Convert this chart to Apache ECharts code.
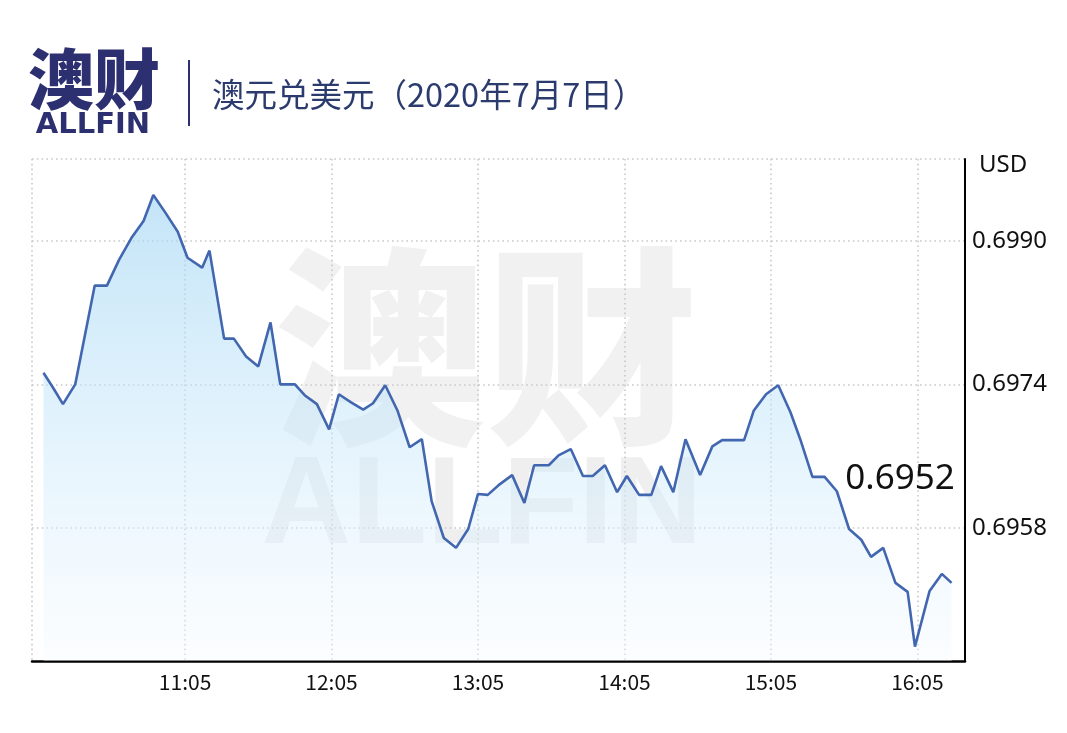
<!DOCTYPE html>
<html><head><meta charset="utf-8">
<script src="https://cdn.jsdelivr.net/npm/echarts@6/dist/echarts.min.js"></script>
<style>html,body{margin:0;padding:0;background:#fff}#c{width:1067px;height:733px}</style>
</head><body><div id="c"></div>
<script>
// ---- data ----
const times = [
'10:07','10:11','10:15','10:20','10:24','10:28','10:33','10:38','10:43','10:48',
'10:52','10:57','11:02','11:06','11:12','11:15','11:21','11:25','11:30','11:35',
'11:40','11:44','11:50','11:54','11:59','12:04','12:08','12:13','12:18','12:22',
'12:27','12:32','12:37','12:42','12:46','12:51','12:56','13:01','13:05','13:09',
'13:14','13:19','13:24','13:28','13:34','13:38','13:43','13:48','13:52','13:57',
'14:02','14:06','14:11','14:16','14:20','14:25','14:30','14:36','14:41','14:45',
'14:49','14:54','14:58','15:03','15:08','15:13','15:17','15:22','15:27','15:32',
'15:37','15:42','15:46','15:51','15:56','16:01','16:04','16:10','16:15','16:19'];
const rates = [
0.69753,0.69736,0.69718,0.69740,0.69795,0.69850,0.69850,0.69879,0.69903,0.69922,
0.69951,0.69931,0.69910,0.69881,0.69870,0.69889,0.69791,0.69791,0.69771,0.69760,
0.69809,0.69740,0.69740,0.69728,0.69718,0.69690,0.69729,0.69720,0.69712,0.69719,
0.69739,0.69711,0.69670,0.69679,0.69610,0.69569,0.69558,0.69579,0.69618,0.69617,
0.69629,0.69639,0.69608,0.69650,0.69650,0.69661,0.69668,0.69638,0.69638,0.69650,
0.69620,0.69638,0.69617,0.69617,0.69649,0.69620,0.69679,0.69639,0.69671,0.69678,
0.69678,0.69678,0.69711,0.69729,0.69739,0.69709,0.69679,0.69637,0.69637,0.69621,
0.69579,0.69567,0.69548,0.69558,0.69519,0.69509,0.69448,0.69510,0.69529,0.69519];
const xTickLabels = ['11:05','12:05','13:05','14:05','15:05','16:05'];
const yTickValues = [0.6958, 0.6974, 0.6990];
const unitName = 'USD';
const titleText = '澳元兑美元（2020年7月7日）';
const logoText = '澳财';
const logoSub = 'ALLFIN';

// ---- helpers ----
const toMin = s => { const p = s.split(':').map(Number); return p[0] * 60 + p[1]; };
const fmtMin = v => { const h = Math.floor(v / 60), m = Math.round(v - h * 60); return h + ':' + String(m).padStart(2, '0'); };
const seriesData = times.map((t, i) => [toMin(t), rates[i]]);
const xTicks = xTickLabels.map(toMin);
const xMin = 602.3, xMax = 984.5, yMin = 0.69432, yMax = 0.69991;
const lastVal = rates[rates.length - 1].toFixed(4);
const navy = '#2c3070';
const gridLine = { show: true, lineStyle: { color: '#c9c9c9', width: 1.6, type: [1.6, 3.2] } };

const chart = echarts.init(document.getElementById('c'));
chart.setOption({
  animation: false,
  backgroundColor: '#ffffff',
  grid: { left: 32, right: 102, top: 159, bottom: 72, containLabel: false, outerBoundsMode: 'none' },
  xAxis: {
    type: 'value', min: xMin, max: xMax,
    axisLine: { show: true, onZero: false, lineStyle: { color: '#000', width: 2.5 } },
    axisTick: { show: false, customValues: [xMin].concat(xTicks) },
    axisLabel: { customValues: xTicks, formatter: v => fmtMin(v), color: '#111', fontSize: 21,
                 fontFamily: 'Noto Sans CJK SC', margin: 11 },
    splitLine: gridLine
  },
  yAxis: {
    type: 'value', position: 'right', min: yMin, max: yMax, scale: true,
    name: unitName, nameLocation: 'end', nameGap: -6,
    nameTextStyle: { align: 'left', verticalAlign: 'middle', padding: [0, 0, 0, 14], fontSize: 24,
                     fontFamily: 'Noto Sans', color: '#111' },
    axisLine: { show: true, lineStyle: { color: '#000', width: 2 } },
    axisTick: { show: false, customValues: yTickValues.concat([yMax]) },
    axisLabel: { customValues: yTickValues, formatter: v => v.toFixed(4), color: '#111', fontSize: 24,
                 fontFamily: 'Noto Sans', margin: 7 },
    splitLine: gridLine
  },
  graphic: [
    { type: 'text', x: 28, y: 79, style: { text: logoText, fill: navy, fontSize: 66, fontWeight: 900,
        fontFamily: 'Noto Sans CJK SC', align: 'left', verticalAlign: 'middle' } },
    { type: 'text', x: 93, y: 125, style: { text: logoSub, fill: navy, fontSize: 29, fontWeight: 'bold',
        fontFamily: 'DejaVu Sans', align: 'center', verticalAlign: 'middle' } },
    { type: 'line', shape: { x1: 189, y1: 60, x2: 189, y2: 126 }, style: { stroke: navy, lineWidth: 2 } },
    { type: 'text', x: 212, y: 95, style: { text: titleText, fill: '#2b3b6e', fontSize: 32.5,
        fontFamily: 'Noto Sans CJK SC', align: 'left', verticalAlign: 'middle' } },
    { type: 'text', x: 486, y: 347, style: { text: logoText, fill: '#f1f1f1', fontSize: 212, fontWeight: 900,
        fontFamily: 'Noto Sans CJK SC', align: 'center', verticalAlign: 'middle' } },
    { type: 'text', x: 482, y: 509, style: { text: logoSub, fill: '#efefef', fontSize: 124, fontWeight: 'bold',
        fontFamily: 'Liberation Sans', align: 'center', verticalAlign: 'middle' } },
    { type: 'text', z: 100, x: 900, y: 479, style: { text: lastVal, fill: '#111', fontSize: 35,
        fontFamily: 'Noto Sans', align: 'center', verticalAlign: 'middle' } }
  ],
  series: [{
    type: 'line', data: seriesData, symbol: 'none', z: 3,
    lineStyle: { color: '#4267b0', width: 2.6 },
    areaStyle: {
      origin: 'start',
      color: new echarts.graphic.LinearGradient(0, 0, 0, 1, [
        { offset: 0, color: 'rgba(160,213,243,0.9)' },
        { offset: 0.5, color: 'rgba(198,231,250,0.72)' },
        { offset: 1, color: 'rgba(245,250,255,0.55)' }
      ])
    }
  }]
});
</script></body></html>
